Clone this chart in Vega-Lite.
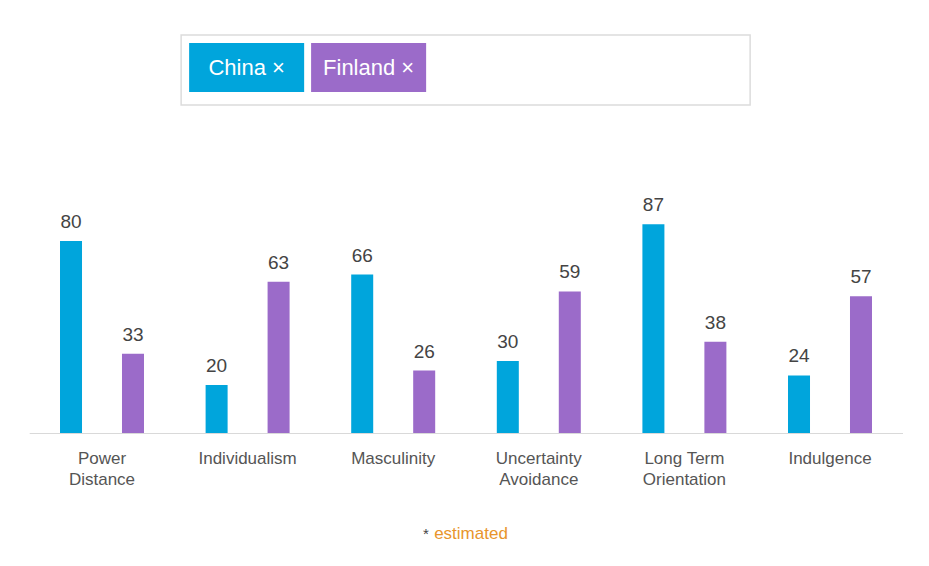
{
  "$schema": "https://vega.github.io/schema/vega-lite/v6.json",
  "padding": {"left": 29, "top": 34, "right": 0, "bottom": 0},
  "background": "white",
  "config": {"view": {"stroke": null}, "font": "Liberation Sans"},
  "spacing": 87,
  "center": true,
  "vconcat": [
    {
      "width": 569,
      "height": 70,
      "view": {"stroke": "#dcdcdc", "strokeWidth": 1.5},
      "data": {"values": [
        {"country": "China", "label": "China ×", "box": "selected"},
        {"country": "Finland", "label": "Finland ×", "box": "selected"}
      ]},
      "encoding": {
        "x": {"field": "country", "type": "nominal", "sort": null, "axis": null,
              "scale": {"range": [8, 245], "paddingInner": 0.057, "paddingOuter": 0}},
        "y": {"field": "box", "type": "nominal", "axis": null,
              "scale": {"range": [8, 57], "paddingInner": 0, "paddingOuter": 0}}
      },
      "layer": [
        {
          "mark": {"type": "rect"},
          "encoding": {
            "color": {"field": "country", "type": "nominal",
                      "scale": {"domain": ["China", "Finland"], "range": ["#00a5dc", "#9b6bc9"]},
                      "legend": null}
          }
        },
        {
          "mark": {"type": "text", "color": "white", "fontSize": 22, "font": "Liberation Sans", "baseline": "middle"},
          "encoding": {"text": {"field": "label"}}
        }
      ]
    },
    {
      "spacing": 37,
      "vconcat": [
        {
          "width": 873.6,
          "height": 240,
          "data": {"values": [
            {"dimension": "Power Distance", "country": "China", "score": 80},
            {"dimension": "Power Distance", "country": "Finland", "score": 33},
            {"dimension": "Individualism", "country": "China", "score": 20},
            {"dimension": "Individualism", "country": "Finland", "score": 63},
            {"dimension": "Masculinity", "country": "China", "score": 66},
            {"dimension": "Masculinity", "country": "Finland", "score": 26},
            {"dimension": "Uncertainty Avoidance", "country": "China", "score": 30},
            {"dimension": "Uncertainty Avoidance", "country": "Finland", "score": 59},
            {"dimension": "Long Term Orientation", "country": "China", "score": 87},
            {"dimension": "Long Term Orientation", "country": "Finland", "score": 38},
            {"dimension": "Indulgence", "country": "China", "score": 24},
            {"dimension": "Indulgence", "country": "Finland", "score": 57}
          ]},
          "encoding": {
            "x": {"field": "dimension", "type": "nominal", "sort": null,
                  "scale": {"paddingInner": 0, "paddingOuter": 0},
                  "axis": {"title": null, "domainColor": "#d9d9d9", "domainWidth": 1,
                           "ticks": false, "tickSize": 0, "grid": false,
                           "labelPadding": 17, "labelFontSize": 17, "labelColor": "#555555",
                           "labelFont": "Liberation Sans", "labelLineHeight": 21, "labelAngle": 0,
                           "labelExpr": "datum.label == 'Long Term Orientation' ? ['Long Term', 'Orientation'] : split(datum.label, ' ')"}},
            "xOffset": {"field": "country", "type": "nominal", "sort": null,
                        "scale": {"paddingInner": 0.645, "paddingOuter": 0.497}},
            "y": {"field": "score", "type": "quantitative", "scale": {"domain": [0, 100]}, "axis": null}
          },
          "layer": [
            {
              "mark": {"type": "bar"},
              "encoding": {
                "color": {"field": "country", "type": "nominal",
                          "scale": {"domain": ["China", "Finland"], "range": ["#00a5dc", "#9b6bc9"]},
                          "legend": null}
              }
            },
            {
              "mark": {"type": "text", "baseline": "alphabetic", "dy": -13, "fontSize": 19, "color": "#444444", "font": "Liberation Sans"},
              "encoding": {"text": {"field": "score", "type": "quantitative"}}
            }
          ]
        },
        {
          "width": 873.6,
          "height": 20,
          "data": {"values": [{"note": "estimated"}]},
          "layer": [
            {
              "mark": {"type": "text", "fontSize": 17, "color": "#e8952b", "dx": 5, "font": "Liberation Sans", "fontWeight": 500},
              "encoding": {"text": {"field": "note"}}
            },
            {
              "mark": {"type": "text", "text": "*", "fontSize": 15, "color": "#444444", "dx": -40, "font": "Liberation Sans"},
              "encoding": {}
            }
          ]
        }
      ]
    }
  ]
}
